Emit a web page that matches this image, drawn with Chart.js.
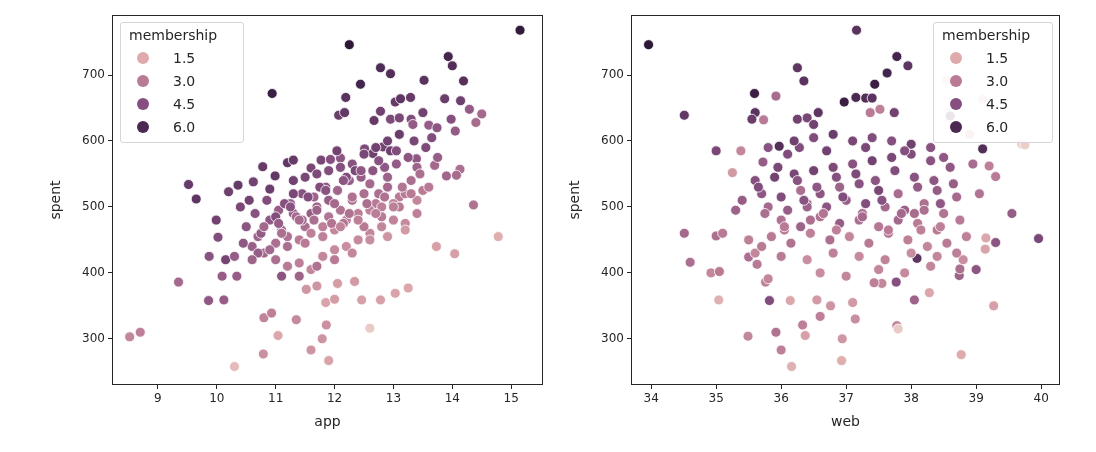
<!DOCTYPE html>
<html><head><meta charset="utf-8">
<script src="https://cdn.jsdelivr.net/npm/chart.js@4"></script>
<style>
body{margin:0;background:#fff;width:1096px;height:452px;position:relative;overflow:hidden;font-family:"DejaVu Sans",sans-serif}
.c{position:absolute;top:0;height:452px}
.lg{position:absolute;background:rgba(255,255,255,0.85);border:1px solid #d6d6d6;border-radius:3px;font-size:14px;color:#262626;padding:4px 8px}
.lg .t{margin-bottom:3px}
.lg .r{height:23px;display:flex;align-items:center}
.lg .d{width:12px;height:12px;border-radius:50%;margin:0 24px 0 8px}
</style></head><body>
<div class="c" style="left:40px;width:510px"><canvas id="a"></canvas></div>
<div class="c" style="left:559px;width:508px"><canvas id="b"></canvas></div>
<div class="lg" style="left:120px;top:22px;width:106px" id="la"></div>
<div class="lg" style="left:933px;top:22px;width:102px" id="lb"></div>
<script>
// app (x), spent (y), membership (m) — left panel
const appX=[15.15,12.25,10.94,13.93,14.0,12.78,12.95,12.44,13.52,14.19,12.19,13.03,13.12,13.29,13.87,14.14,14.29,14.5,14.4,12.07,12.17,12.78,13.5,13.98,12.67,12.95,13.1,13.3,13.6,13.74,13.33,14.05,9.52,9.65,10.2,10.36,10.62,10.78,11.2,11.3,11.77,11.93,12.1,12.04,12.51,12.65,12.82,13.39,13.7,14.13,13.9,14.07,10.99,10.9,11.6,
8.52,8.7,9.35,9.86,10.12,10.3,10.79,10.8,10.93,11.04,11.35,11.6,11.79,11.86,11.9,11.85,12.0,12.46,12.6,12.78,13.03,13.25,13.73,14.04,14.78,14.36,12.34,11.52,11.7,12.05,9.99,10.02,9.87,10.15,10.09,10.34,
10.5,10.7,10.9,11.1,11.3,11.5,11.7,11.9,12.1,12.3,12.5,12.7,12.9,13.1,13.3,13.5,
10.6,10.8,11.0,11.2,11.4,11.6,11.8,12.0,12.2,12.4,12.6,12.8,13.0,13.2,13.4,13.6,
10.4,10.65,10.85,11.05,11.25,11.45,11.65,11.85,12.05,12.25,12.45,12.65,12.85,13.05,13.25,
11.0,11.2,11.4,11.6,11.8,12.0,12.2,12.4,12.6,12.8,13.0,13.2,13.4,
11.3,11.5,11.7,11.9,12.1,12.3,12.5,12.7,12.9,13.1,
10.7,11.0,11.3,11.6,11.9,12.2,12.5,12.8,13.1,13.4,
11.1,11.4,11.7,12.0,12.3,12.6,12.9,13.2,
10.55,11.15,11.75,12.35,12.95,13.55,11.45,12.15,12.75,
10.45,10.75,11.05,11.35,11.65,11.95,12.25,12.55,12.85,13.15,13.45,13.75,
10.3,10.6,10.9,11.2,11.5,11.8,12.1,12.4,12.7,13.0,13.3,
11.25,11.55,11.85,12.15,12.45,12.75,13.05,13.35,13.65,
10.8,11.1,11.4,11.7,12.0,12.3,12.6,12.9];
const spentY=[768,746,672,728,714,711,702,686,692,691,666,659,664,666,664,661,648,641,628,639,643,645,643,633,631,633,635,633,624,620,625,615,534,512,523,533,538,561,567,571,571,572,574,585,588,581,591,573,563,557,547,548,547,527,559,
303,310,386,358,359,258,277,332,339,305,329,283,300,321,267,355,360,359,316,359,369,377,440,429,455,503,387,375,380,384,480,454,425,420,395,395,
470,455,480,465,490,470,500,485,495,510,520,505,530,515,540,525,
440,430,445,455,450,460,470,465,480,490,495,500,505,520,510,530,
500,490,510,495,505,520,515,530,525,540,545,555,560,565,575,
420,410,415,405,425,435,440,450,460,470,480,475,490,
540,545,550,555,560,565,580,590,600,610,
430,485,520,490,510,545,470,485,500,560,
395,395,410,420,430,450,455,465,
510,505,530,555,585,590,480,475,520,
445,460,475,485,480,475,490,505,515,530,550,575,
425,420,435,440,445,455,470,480,490,500,520,
500,515,525,540,555,570,585,600,605,
470,460,480,495,505,515,535,545];
const memA=[6.8,6.9,6.5,6.2,5.8,5.9,5.8,6.2,5.6,5.7,5.6,5.3,5.5,5.3,5.2,5.1,4.1,3.6,3.5,5.2,5.4,5.0,5.0,4.5,5.3,4.7,4.8,4.6,4.0,4.3,4.1,4.1,5.3,5.5,5.1,5.3,5.0,5.3,5.4,5.3,4.8,4.5,4.3,5.0,4.7,5.1,4.9,4.2,3.6,3.4,3.7,3.5,5.4,5.2,4.8,
2.6,2.8,3.6,4.2,4.0,1.0,2.3,2.7,2.8,1.6,2.5,2.2,2.2,2.3,1.7,1.7,1.9,1.8,0.6,1.8,1.7,1.6,1.8,1.8,1.4,3.3,2.0,2.1,2.2,1.9,5.0,4.6,4.4,4.9,4.0,4.0,
4.3,3.8,4.2,3.6,4.1,3.4,3.8,3.2,3.2,3.4,3.4,3.0,3.6,3.0,3.4,3.0,
3.9,3.6,3.4,3.3,3.0,2.8,2.8,2.6,2.8,2.9,2.7,2.8,2.7,3.0,2.6,3.0,
4.8,4.4,4.6,4.0,4.0,4.4,3.8,4.2,3.7,4.0,4.0,4.3,4.2,4.1,4.3,
3.4,3.0,2.8,2.6,2.6,2.5,2.4,2.5,2.6,2.6,2.7,2.5,2.8,
5.0,4.8,4.7,4.6,4.5,4.4,4.8,5.0,5.0,5.2,
4.0,4.6,4.8,4.0,4.0,4.6,3.0,3.0,3.0,3.8,
4.3,3.8,3.3,3.0,2.6,2.4,2.2,2.0,
5.0,4.5,4.6,4.8,5.1,4.7,3.6,3.2,3.4,
4.2,4.1,4.0,3.6,3.4,3.2,3.3,3.4,3.3,3.2,3.4,4.0,
4.0,3.8,3.6,3.4,3.0,2.8,2.7,2.8,2.9,2.8,3.0,
4.4,4.6,4.4,4.3,4.2,4.4,4.6,4.8,4.6,
3.6,3.4,3.5,3.8,3.6,3.3,3.6,3.8];
// web (x), spent (y), membership — right panel
const webX=[33.96,37.16,37.78,37.95,37.63,37.44,36.25,36.35,35.59,35.92,36.97,37.15,37.3,37.4,34.51,35.6,35.55,35.73,36.57,36.25,36.4,36.5,37.37,37.52,37.74,38.55,39.1,38.9,39.7,39.75,38.6,39.1,35.0,35.38,35.8,35.97,36.28,35.25,35.72,39.3,39.2,38.95,
34.51,35.0,35.1,34.6,34.92,35.05,35.04,35.5,35.63,35.76,35.8,35.82,36.14,35.49,35.92,36.0,36.16,36.33,36.37,36.55,36.6,36.76,36.94,36.93,37.1,37.14,37.78,37.8,38.05,38.28,38.77,39.27,39.0,39.55,39.96,39.3,39.15,39.14,38.74,38.75,38.09,37.77,37.55,37.43,
35.6,35.9,36.2,36.5,36.8,37.1,37.4,37.7,38.0,38.3,38.6,
35.7,36.0,36.3,36.6,36.9,37.2,37.5,37.8,38.1,38.4,38.7,
35.8,36.1,36.4,36.7,37.0,37.3,37.6,37.9,38.2,38.5,
36.0,36.3,36.6,36.9,37.2,37.5,37.8,38.1,38.4,
35.5,35.85,36.15,36.45,36.75,37.05,37.35,37.65,37.95,38.25,38.55,38.85,
36.2,36.5,36.8,37.1,37.4,37.7,38.0,38.3,
35.6,36.0,36.4,36.8,37.2,37.6,38.0,38.4,38.8,
36.1,36.7,37.3,37.9,38.5,36.4,37.0,37.6,38.2,
35.4,35.75,36.05,36.35,36.65,36.95,37.25,37.55,37.85,38.15,38.45,38.75,39.05,
35.65,35.95,36.25,36.55,36.85,37.15,37.45,37.75,38.05,38.35,38.65,
36.05,36.45,36.85,37.25,37.65,38.05,38.45,
35.3,35.7,36.6,37.0,37.5,37.9,38.3,38.7];
const spentY2=[746,768,728,714,703,686,711,691,672,668,659,666,665,665,639,643,633,632,643,633,635,625,643,648,643,692,663,610,595,594,638,588,585,585,590,592,590,552,568,546,562,565,
460,456,460,416,400,402,359,424,413,386,391,358,358,304,310,283,258,321,305,359,334,350,300,267,355,330,320,315,359,370,276,350,405,490,452,446,453,436,396,406,422,386,384,385,
540,545,550,555,560,565,570,575,580,570,560,
520,515,525,520,530,535,525,520,530,525,515,
500,495,505,500,510,505,500,495,505,490,
480,470,485,475,480,470,480,475,465,
450,455,445,460,450,455,445,460,450,440,445,455,
600,605,610,600,605,600,595,590,
430,425,420,430,425,420,430,425,420,
580,585,590,585,575,500,510,500,495,
510,490,465,510,490,515,490,510,490,465,505,480,520,
530,560,540,530,545,550,540,555,545,540,535,
470,480,465,485,465,490,470,
495,440,400,395,405,400,410,430];
const memB=[6.9,5.6,6.2,5.5,6.2,6.5,5.5,5.6,6.5,3.5,6.5,6.0,5.8,5.6,5.4,5.6,5.2,3.0,5.5,5.0,4.8,5.0,3.0,2.8,5.0,0.5,0.6,1.5,0.4,0.5,4.5,5.8,4.8,2.6,4.4,5.8,4.6,2.0,4.0,3.0,2.8,3.5,
3.6,3.4,3.0,3.4,2.6,3.0,1.3,3.4,3.0,2.8,2.6,4.6,1.6,2.6,3.3,2.8,1.3,2.8,1.8,2.0,2.8,2.2,2.1,1.4,2.0,2.4,2.7,0.6,3.8,1.6,1.5,1.8,4.3,4.0,4.8,4.3,1.6,1.7,3.8,3.4,5.5,4.5,2.6,2.8,
4.5,5.0,4.8,5.0,4.7,4.4,5.0,4.8,4.6,4.4,4.2,
4.2,4.6,3.4,4.3,3.8,4.4,4.8,3.5,4.1,4.0,3.6,
3.6,4.0,3.5,4.3,3.8,4.6,3.2,3.9,3.4,3.2,
3.3,3.8,3.2,4.0,3.4,3.1,3.6,3.0,3.0,
2.8,3.0,3.3,2.8,3.4,2.6,3.0,3.2,2.8,2.6,3.0,2.8,
5.0,4.6,5.2,4.8,4.6,4.5,5.0,4.4,
2.6,3.0,2.4,2.8,2.5,2.7,2.4,2.6,2.4,
4.6,5.0,4.8,4.5,4.2,3.8,4.0,3.6,3.4,
4.0,3.4,3.0,4.4,3.2,4.6,3.4,4.4,3.6,2.8,4.2,3.0,3.2,
4.6,4.8,4.4,4.2,4.5,4.7,4.3,4.6,4.4,4.2,4.0,
3.0,3.4,2.8,3.6,3.0,3.5,2.8,
3.8,3.0,2.4,2.6,2.6,2.5,2.6,2.8];
const appTicks=[9,10,11,12,13,14,15];
const webTicks=[34,35,36,37,38,39,40];
const spentTicks=[300,400,500,600,700];
const legendVals=[1.5,3.0,4.5,6.0];

const stops=[[0.3,[236,214,207]],[1.5,[222,170,172]],[3.0,[185,122,150]],[4.5,[133,80,127]],[6.0,[75,41,83]],[7.0,[42,23,52]]];
function col(m){for(let i=0;i<stops.length-1;i++){const[a,ca]=stops[i],[b,cb]=stops[i+1];if(m<=b||i===stops.length-2){let t=Math.max(0,Math.min(1,(m-a)/(b-a)));return`rgb(${ca.map((v,k)=>Math.round(v+(cb[k]-v)*t)).join(',')})`;}}}
const frame={id:'frame',afterDraw(c){const a=c.chartArea,x=c.ctx;x.save();x.strokeStyle='#262626';x.lineWidth=1;x.strokeRect(a.left+0.5,a.top+0.5,a.right-a.left-1,a.bottom-a.top-1);x.restore();}};
function make(id,xs,ys,ms,xmin,xmax,xlabel,xt){
  const pts=xs.map((v,i)=>({x:v,y:ys[i]}));
  const ax=(t,min,max,tk,isX)=>({type:'linear',min,max,
    title:{display:true,text:t,color:'#262626',font:{size:14,family:'DejaVu Sans'},padding:{top:4,bottom:0}},
    ticks:{color:'#262626',font:{size:12,family:'DejaVu Sans'},padding:3},
    grid:{drawOnChartArea:false,tickLength:4,color:'#262626'},border:{display:false},
    afterBuildTicks(s){s.ticks=tk.map(v=>({value:v}))},
    afterFit(s){if(isX)s.height=46;else s.width=68;}});
  new Chart(document.getElementById(id),{type:'scatter',
    data:{datasets:[{data:pts,pointRadius:5,pointBorderColor:'#fff',pointBorderWidth:0.8,pointBackgroundColor:ms.map(col)}]},
    options:{animation:false,responsive:true,maintainAspectRatio:false,devicePixelRatio:1,
      layout:{padding:{top:15,right:7,left:4,bottom:21}},
      plugins:{legend:{display:false},tooltip:{enabled:false}},
      scales:{x:ax(xlabel,xmin,xmax,xt,true),y:ax('spent',230,791,spentTicks,false)}},
    plugins:[frame]});
}
make('a',appX,spentY,memA,8.22,15.54,'app',appTicks);
make('b',webX,spentY2,memB,33.69,40.29,'web',webTicks);
for(const id of['la','lb']){const el=document.getElementById(id);let h='<div class="t">membership</div>';
  for(const v of legendVals)h+=`<div class="r"><span class="d" style="background:${col(v)}"></span>${v.toFixed(1)}</div>`;el.innerHTML=h;}
</script></body></html>
